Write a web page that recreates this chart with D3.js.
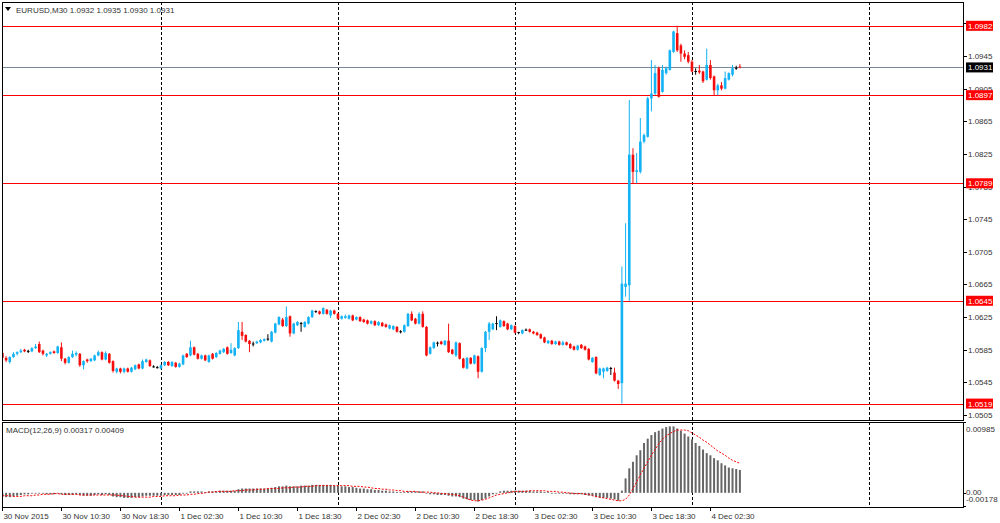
<!DOCTYPE html>
<html><head><meta charset="utf-8">
<script src="https://cdn.jsdelivr.net/npm/d3@7"></script>
<style>
html,body{margin:0;padding:0;background:#fff;}
svg{display:block;}
text{font-family:"Liberation Sans",Arial,sans-serif;font-size:8px;}
</style></head><body>
<svg id="c" width="1000" height="523"></svg>
<script>
const titleText = "EURUSD,M30  1.0932 1.0935 1.0930 1.0931";
const macdTitle = "MACD(12,26,9) 0.00317 0.00409";

const open = [1.0581,1.0575,1.0570,1.0576,1.0580,1.0582,1.0585,1.0583,1.0583,1.0587,
1.0592,1.0584,1.0578,1.0580,1.0583,1.0581,1.0588,1.0574,1.0569,1.0576,
1.0579,1.0580,1.0566,1.0573,1.0571,1.0572,1.0578,1.0582,1.0573,1.0580,
1.0571,1.0558,1.0562,1.0558,1.0562,1.0558,1.0561,1.0567,1.0562,1.0570,
1.0572,1.0564,1.0563,1.0562,1.0566,1.0570,1.0565,1.0569,1.0564,1.0567,
1.0580,1.0578,1.0588,1.0580,1.0574,1.0578,1.0570,1.0580,1.0576,1.0580,
1.0582,1.0588,1.0581,1.0578,1.0587,1.0607,1.0603,1.0596,1.0592,1.0593,
1.0594,1.0596,1.0598,1.0595,1.0606,1.0616,1.0622,1.0614,1.0626,1.0605,
1.0615,1.0617,1.0613,1.0617,1.0625,1.0632,1.0632,1.0629,1.0634,1.0627,
1.0633,1.0629,1.0623,1.0624,1.0623,1.0627,1.0622,1.0625,1.0622,1.0621,
1.0617,1.0620,1.0615,1.0618,1.0616,1.0611,1.0610,1.0613,1.0607,1.0607,
1.0614,1.0629,1.0623,1.0617,1.0629,1.0613,1.0580,1.0587,1.0593,1.0595,
1.0591,1.0596,1.0585,1.0578,1.0593,1.0574,1.0562,1.0575,1.0568,1.0577,
1.0558,1.0587,1.0607,1.0610,1.0617,1.0613,1.0620,1.0617,1.0610,1.0614,
1.0606,1.0605,1.0609,1.0610,1.0607,1.0606,1.0604,1.0600,1.0593,1.0596,
1.0592,1.0595,1.0591,1.0594,1.0592,1.0589,1.0585,1.0591,1.0589,1.0586,
1.0570,1.0576,1.0554,1.0558,1.0559,1.0562,1.0557,1.0547,1.0544,1.0662,
1.0664,1.0824,1.0803,1.0803,1.0840,1.0846,1.0893,1.0899,1.0930,1.0901,
1.0924,1.0928,1.0950,1.0973,1.0958,1.0948,1.0946,1.0938,1.0926,1.0927,
1.0926,1.0916,1.0934,1.0920,1.0903,1.0909,1.0905,1.0916,1.0922,1.0930,
1.0932];
const high = [1.0583,1.0577,1.0577,1.0582,1.0583,1.0586,1.0586,1.0585,1.0588,1.0592,
1.0595,1.0585,1.0581,1.0583,1.0584,1.0590,1.0594,1.0575,1.0577,1.0584,
1.0583,1.0581,1.0572,1.0574,1.0575,1.0579,1.0584,1.0583,1.0583,1.0581,
1.0572,1.0563,1.0563,1.0563,1.0563,1.0564,1.0567,1.0568,1.0573,1.0574,
1.0573,1.0566,1.0565,1.0567,1.0571,1.0571,1.0571,1.0570,1.0569,1.0579,
1.0581,1.0596,1.0589,1.0581,1.0579,1.0579,1.0579,1.0581,1.0582,1.0585,
1.0587,1.0589,1.0593,1.0588,1.0619,1.0619,1.0604,1.0597,1.0595,1.0596,
1.0598,1.0599,1.0604,1.0608,1.0618,1.0626,1.0624,1.0638,1.0627,1.0618,
1.0620,1.0619,1.0620,1.0626,1.0634,1.0633,1.0633,1.0637,1.0635,1.0634,
1.0634,1.0630,1.0627,1.0628,1.0628,1.0628,1.0626,1.0626,1.0623,1.0622,
1.0621,1.0621,1.0620,1.0619,1.0617,1.0616,1.0615,1.0614,1.0609,1.0616,
1.0630,1.0632,1.0624,1.0631,1.0632,1.0614,1.0589,1.0595,1.0595,1.0596,
1.0597,1.0617,1.0586,1.0595,1.0594,1.0575,1.0576,1.0576,1.0579,1.0578,
1.0588,1.0608,1.0619,1.0618,1.0626,1.0622,1.0621,1.0618,1.0616,1.0615,
1.0607,1.0610,1.0611,1.0611,1.0608,1.0607,1.0605,1.0601,1.0597,1.0597,
1.0596,1.0596,1.0596,1.0595,1.0593,1.0590,1.0591,1.0592,1.0590,1.0587,
1.0576,1.0577,1.0563,1.0563,1.0564,1.0564,1.0563,1.0548,1.0687,1.0740,
1.0891,1.0832,1.0826,1.0869,1.0850,1.0895,1.0940,1.0934,1.0932,1.0934,
1.0932,1.0953,1.0976,1.0982,1.0960,1.0952,1.0950,1.0940,1.0930,1.0934,
1.0927,1.0954,1.0940,1.0921,1.0911,1.0913,1.0926,1.0925,1.0934,1.0933,
1.0935];
const low = [1.0573,1.0570,1.0568,1.0575,1.0578,1.0581,1.0582,1.0581,1.0582,1.0586,
1.0581,1.0578,1.0576,1.0579,1.0580,1.0580,1.0571,1.0567,1.0568,1.0575,
1.0577,1.0564,1.0561,1.0569,1.0570,1.0571,1.0577,1.0572,1.0572,1.0568,
1.0557,1.0556,1.0556,1.0556,1.0557,1.0557,1.0560,1.0561,1.0561,1.0569,
1.0564,1.0563,1.0562,1.0561,1.0565,1.0565,1.0564,1.0563,1.0563,1.0566,
1.0575,1.0577,1.0578,1.0573,1.0573,1.0571,1.0569,1.0573,1.0575,1.0579,
1.0581,1.0579,1.0580,1.0577,1.0586,1.0597,1.0594,1.0582,1.0589,1.0592,
1.0593,1.0595,1.0596,1.0594,1.0605,1.0615,1.0613,1.0613,1.0601,1.0604,
1.0614,1.0607,1.0612,1.0616,1.0624,1.0630,1.0628,1.0628,1.0628,1.0624,
1.0628,1.0622,1.0622,1.0623,1.0622,1.0620,1.0621,1.0619,1.0618,1.0616,
1.0616,1.0614,1.0614,1.0613,1.0612,1.0610,1.0609,1.0606,1.0605,1.0606,
1.0613,1.0620,1.0616,1.0616,1.0612,1.0577,1.0579,1.0586,1.0589,1.0591,
1.0590,1.0581,1.0579,1.0576,1.0573,1.0562,1.0561,1.0567,1.0567,1.0550,
1.0557,1.0582,1.0597,1.0609,1.0609,1.0612,1.0613,1.0609,1.0609,1.0605,
1.0604,1.0604,1.0608,1.0606,1.0604,1.0602,1.0598,1.0593,1.0592,1.0591,
1.0591,1.0590,1.0590,1.0590,1.0586,1.0584,1.0584,1.0586,1.0584,1.0572,
1.0569,1.0555,1.0553,1.0550,1.0558,1.0554,1.0546,1.0537,1.0519,1.0650,
1.0645,1.0789,1.0789,1.0801,1.0838,1.0845,1.0877,1.0897,1.0894,1.0900,
1.0922,1.0927,1.0949,1.0950,1.0938,1.0941,1.0936,1.0925,1.0922,1.0923,
1.0912,1.0915,1.0916,1.0897,1.0897,1.0903,1.0904,1.0915,1.0920,1.0928,
1.0930];
const close = [1.0575,1.0572,1.0576,1.0580,1.0582,1.0584,1.0583,1.0583,1.0587,1.0589,
1.0582,1.0580,1.0580,1.0582,1.0581,1.0589,1.0574,1.0569,1.0576,1.0580,
1.0581,1.0566,1.0571,1.0571,1.0574,1.0578,1.0582,1.0573,1.0581,1.0569,
1.0559,1.0562,1.0558,1.0562,1.0558,1.0563,1.0566,1.0562,1.0571,1.0573,
1.0565,1.0564,1.0563,1.0566,1.0570,1.0566,1.0570,1.0564,1.0568,1.0578,
1.0576,1.0588,1.0579,1.0574,1.0578,1.0572,1.0578,1.0574,1.0581,1.0584,
1.0586,1.0580,1.0585,1.0587,1.0609,1.0602,1.0595,1.0592,1.0592,1.0595,
1.0597,1.0598,1.0598,1.0607,1.0617,1.0625,1.0614,1.0625,1.0605,1.0617,
1.0619,1.0617,1.0619,1.0625,1.0633,1.0632,1.0629,1.0636,1.0629,1.0633,
1.0629,1.0623,1.0626,1.0626,1.0627,1.0621,1.0625,1.0620,1.0619,1.0617,
1.0620,1.0615,1.0619,1.0614,1.0613,1.0615,1.0614,1.0607,1.0607,1.0615,
1.0629,1.0621,1.0617,1.0629,1.0613,1.0578,1.0588,1.0594,1.0593,1.0592,
1.0596,1.0582,1.0580,1.0594,1.0574,1.0563,1.0575,1.0568,1.0578,1.0558,
1.0587,1.0607,1.0617,1.0617,1.0617,1.0621,1.0614,1.0610,1.0615,1.0606,
1.0606,1.0609,1.0609,1.0607,1.0605,1.0603,1.0599,1.0594,1.0596,1.0592,
1.0595,1.0591,1.0594,1.0591,1.0587,1.0585,1.0590,1.0587,1.0585,1.0573,
1.0575,1.0556,1.0562,1.0562,1.0563,1.0562,1.0547,1.0543,1.0666,1.0666,
1.0824,1.0803,1.0805,1.0840,1.0848,1.0893,1.0899,1.0924,1.0895,1.0928,
1.0930,1.0952,1.0975,1.0952,1.0948,1.0944,1.0938,1.0926,1.0926,1.0925,
1.0914,1.0934,1.0918,1.0903,1.0909,1.0905,1.0918,1.0924,1.0930,1.0930,
1.0931];

const macdMain = [-0.0005,-0.0006,-0.0006,-0.0005,-0.0004,-0.0003,-0.0002,-0.0002,-0.0001,-0.0001,
-0.0001,-0.0001,-0.0002,-0.0002,-0.0002,-0.0001,-0.0002,-0.0003,-0.0003,-0.0003,
-0.0002,-0.0003,-0.0004,-0.0004,-0.0004,-0.0003,-0.0002,-0.0003,-0.0002,-0.0003,
-0.0005,-0.0006,-0.0006,-0.0007,-0.0007,-0.0007,-0.0006,-0.0006,-0.0005,-0.0004,
-0.0004,-0.0004,-0.0004,-0.0004,-0.0003,-0.0003,-0.0003,-0.0003,-0.0003,-0.0001,
0.0000,0.0002,0.0002,0.0002,0.0002,0.0001,0.0002,0.0002,0.0002,0.0003,
0.0003,0.0003,0.0003,0.0003,0.0005,0.0006,0.0006,0.0006,0.0006,0.0006,
0.0006,0.0006,0.0006,0.0007,0.0008,0.0009,0.0009,0.0010,0.0009,0.0009,
0.0009,0.0010,0.0010,0.0010,0.0011,0.0011,0.0011,0.0011,0.0011,0.0011,
0.0010,0.0010,0.0009,0.0009,0.0008,0.0008,0.0007,0.0006,0.0006,0.0005,
0.0005,0.0004,0.0004,0.0003,0.0003,0.0002,0.0002,0.0001,0.0001,0.0001,
0.0002,0.0002,0.0002,0.0002,0.0002,-0.0001,-0.0002,-0.0002,-0.0003,-0.0003,
-0.0003,-0.0004,-0.0005,-0.0005,-0.0006,-0.0008,-0.0009,-0.0010,-0.0010,-0.0012,
-0.0010,-0.0008,-0.0005,-0.0002,0.0000,0.0002,0.0003,0.0003,0.0003,0.0003,
0.0003,0.0003,0.0003,0.0003,0.0002,0.0002,0.0002,0.0001,0.0001,0.0000,
0.0000,-0.0001,-0.0001,-0.0001,-0.0002,-0.0002,-0.0002,-0.0002,-0.0003,-0.0004,
-0.0004,-0.0006,-0.0007,-0.0007,-0.0007,-0.0008,-0.0009,-0.0011,0.0003,0.0020,
0.0034,0.0043,0.0052,0.0059,0.0069,0.0075,0.0080,0.0084,0.0086,0.0089,
0.0091,0.0092,0.0092,0.0089,0.0086,0.0082,0.0078,0.0074,0.0069,0.0065,
0.0060,0.0055,0.0052,0.0048,0.0045,0.0041,0.0038,0.0035,0.0034,0.0033,
0.00317];
const macdSignal = [-0.0004,-0.0004,-0.0004,-0.0005,-0.0005,-0.0005,-0.0004,-0.0004,-0.0004,-0.0003,
-0.0003,-0.0002,-0.0002,-0.0002,-0.0001,-0.0001,-0.0002,-0.0002,-0.0002,-0.0002,
-0.0002,-0.0003,-0.0003,-0.0003,-0.0003,-0.0003,-0.0003,-0.0003,-0.0003,-0.0003,
-0.0003,-0.0003,-0.0004,-0.0004,-0.0005,-0.0005,-0.0006,-0.0006,-0.0006,-0.0006,
-0.0006,-0.0005,-0.0005,-0.0005,-0.0004,-0.0004,-0.0004,-0.0004,-0.0003,-0.0003,
-0.0003,-0.0002,-0.0002,-0.0001,-0.0001,0.0000,0.0001,0.0001,0.0002,0.0002,
0.0002,0.0002,0.0002,0.0003,0.0003,0.0003,0.0004,0.0004,0.0004,0.0005,
0.0005,0.0005,0.0006,0.0006,0.0006,0.0006,0.0007,0.0007,0.0007,0.0008,
0.0008,0.0008,0.0009,0.0009,0.0009,0.0010,0.0010,0.0010,0.0010,0.0010,
0.0010,0.0010,0.0010,0.0010,0.0010,0.0009,0.0009,0.0009,0.0008,0.0008,
0.0007,0.0006,0.0006,0.0005,0.0005,0.0004,0.0004,0.0003,0.0003,0.0002,
0.0002,0.0002,0.0002,0.0001,0.0001,0.0001,0.0001,0.0000,0.0000,-0.0001,
-0.0001,-0.0002,-0.0002,-0.0003,-0.0004,-0.0006,-0.0008,-0.0010,-0.0011,-0.0011,
-0.0010,-0.0009,-0.0007,-0.0005,-0.0003,-0.0002,-0.0001,0.0000,0.0001,0.0002,
0.0002,0.0002,0.0002,0.0003,0.0003,0.0003,0.0003,0.0003,0.0002,0.0002,
0.0002,0.0001,0.0001,0.0000,0.0000,-0.0001,-0.0001,-0.0001,-0.0002,-0.0002,
-0.0004,-0.0005,-0.0006,-0.0007,-0.0008,-0.0009,-0.0010,-0.0011,-0.0011,-0.0009,
-0.0003,0.0006,0.0015,0.0025,0.0034,0.0043,0.0052,0.0060,0.0068,0.0074,
0.0079,0.0082,0.0085,0.0087,0.0087,0.0087,0.0086,0.0083,0.0080,0.0077,
0.0073,0.0070,0.0066,0.0062,0.0058,0.0055,0.0052,0.0048,0.0045,0.0043,
0.00409];

const timeLabels = ["30 Nov 2015","30 Nov 10:30","30 Nov 18:30","1 Dec 02:30","1 Dec 10:30","1 Dec 18:30","2 Dec 02:30","2 Dec 10:30","2 Dec 18:30","3 Dec 02:30","3 Dec 10:30","3 Dec 18:30","4 Dec 02:30"];
const timeLabelBars = [0,16,32,48,64,80,96,112,128,144,160,176,192];
const daySeparatorBars = [43,91,139,187,235];
const priceTicks = [1.0505,1.0545,1.0585,1.0625,1.0665,1.0705,1.0745,1.0785,1.0825,1.0865,1.0905,1.0945,1.0985];
const priceTickLabels = [1.0505,1.0545,1.0585,1.0625,1.0665,1.0705,1.0745,1.0785,1.0825,1.0865,1.0905,1.0945];
const levelLines = [1.0982,1.0897,1.0789,1.0645,1.0519];
const bidPrice = 1.0931;
const macdAxisLabels = [{v:0.00985,t:"0.00985"},{v:0,t:"0.00"},{v:-0.00178,t:"-0.00178"}];

const L = 2, R = 963, mainTop = 2, mainBot = 420, macdTop = 422, macdBot = 507;
const bullColor = "#12b2f4", bearColor = "#f40d0d", dojiColor = "#000";

const svg = d3.select("#c");
const x = d3.scaleLinear().domain([0, 200]).range([2.4, 739.9]);
const y = d3.scaleLinear().domain([1.0505, 1.0945]).range([415, 56]);
const ym = d3.scaleLinear().domain([-0.00178, 0.00985]).range([505.7, 421.7]);

const bars = d3.range(close.length).map(i => ({i, o:open[i], h:high[i], l:low[i], c:close[i], m:macdMain[i], s:macdSignal[i]}));

svg.append("clipPath").attr("id","mainClip").append("rect").attr("x",L).attr("y",mainTop).attr("width",R-L).attr("height",mainBot-mainTop);
svg.append("clipPath").attr("id","macdClip").append("rect").attr("x",L).attr("y",macdTop).attr("width",R-L).attr("height",macdBot-macdTop);

const gMain = svg.append("g").attr("clip-path","url(#mainClip)");
const gMacd = svg.append("g").attr("clip-path","url(#macdClip)");

[ [gMain, mainTop, mainBot], [gMacd, macdTop, macdBot] ].forEach(([g, t, b]) => {
  g.selectAll(null).data(daySeparatorBars).enter().append("line")
    .attr("x1", d => Math.round(x(d)) + 0.5).attr("x2", d => Math.round(x(d)) + 0.5)
    .attr("y1", t).attr("y2", b)
    .attr("stroke", "#000").attr("stroke-width", 1).attr("stroke-dasharray", "3,2");
});

gMain.selectAll(null).data(levelLines).enter().append("line")
  .attr("x1", L).attr("x2", R)
  .attr("y1", d => Math.round(y(d)) + 0.5).attr("y2", d => Math.round(y(d)) + 0.5)
  .attr("stroke", "#ff0000").attr("stroke-width", 1);
gMain.append("line").attr("x1", L).attr("x2", R)
  .attr("y1", Math.round(y(bidPrice)) + 0.5).attr("y2", Math.round(y(bidPrice)) + 0.5)
  .attr("stroke", "#778899").attr("stroke-width", 1);

const bw = 2.6;
const cg = gMain.selectAll("g.candle").data(bars).enter().append("g").attr("class","candle");
const colorOf = d => d.c > d.o ? bullColor : (d.c < d.o ? bearColor : dojiColor);
cg.append("line")
  .attr("x1", d => x(d.i)).attr("x2", d => x(d.i))
  .attr("y1", d => y(d.h)).attr("y2", d => y(d.l))
  .attr("stroke", colorOf).attr("stroke-width", 1);
cg.filter(d => d.c !== d.o).append("rect")
  .attr("x", d => x(d.i) - bw/2).attr("width", bw)
  .attr("y", d => y(Math.max(d.o, d.c)))
  .attr("height", d => Math.max(1, y(Math.min(d.o, d.c)) - y(Math.max(d.o, d.c))))
  .attr("fill", colorOf);
cg.filter(d => d.c === d.o).append("line")
  .attr("x1", d => x(d.i) - bw/2).attr("x2", d => x(d.i) + bw/2)
  .attr("y1", d => y(d.o)).attr("y2", d => y(d.o))
  .attr("stroke", dojiColor).attr("stroke-width", 1);

gMacd.selectAll("rect.h").data(bars).enter().append("rect").attr("class","h")
  .attr("x", d => x(d.i) - 1).attr("width", 2)
  .attr("y", d => Math.min(ym(0), ym(d.m)))
  .attr("height", d => Math.max(0.8, Math.abs(ym(d.m) - ym(0))))
  .attr("fill", "#666");
gMacd.append("path").datum(bars)
  .attr("d", d3.line().x(d => x(d.i)).y(d => ym(d.s)))
  .attr("fill","none").attr("stroke","#ff0000").attr("stroke-width",1).attr("stroke-dasharray","2,1.5");

const frame = svg.append("g").attr("fill","none").attr("stroke","#000").attr("stroke-width",1).attr("shape-rendering","crispEdges");
frame.append("rect").attr("x", L + 0.5).attr("y", mainTop + 0.5).attr("width", R - L).attr("height", mainBot - mainTop);
frame.append("rect").attr("x", L + 0.5).attr("y", macdTop + 0.5).attr("width", R - L).attr("height", macdBot - macdTop);

const ax = svg.append("g");
ax.selectAll(null).data(priceTicks).enter().append("line")
  .attr("x1", R + 0.5).attr("x2", R + 4).attr("y1", d => Math.round(y(d)) + 0.5).attr("y2", d => Math.round(y(d)) + 0.5)
  .attr("stroke", "#000").attr("shape-rendering","crispEdges");
ax.selectAll(null).data(priceTickLabels).enter().append("text")
  .attr("x", R + 5).attr("y", d => y(d) + 3)
  .attr("fill", "#333").text(d => d.toFixed(4));

const lab = svg.append("g");
levelLines.forEach(v => {
  lab.append("rect").attr("x", 966).attr("y", y(v) - 5).attr("width", 27).attr("height", 10).attr("fill", "#ff0000");
  lab.append("text").attr("x", 968).attr("y", y(v) + 3).attr("fill", "#fff").text(v.toFixed(4));
});
lab.append("rect").attr("x", 966).attr("y", y(bidPrice) - 5).attr("width", 27).attr("height", 10).attr("fill", "#000");
lab.append("text").attr("x", 968).attr("y", y(bidPrice) + 3).attr("fill", "#fff").text(bidPrice.toFixed(4));

svg.selectAll(null).data(macdAxisLabels).enter().append("text")
  .attr("x", 966).attr("y", (d, k) => k === 0 ? 432 : (k === 1 ? 495 : 502))
  .attr("fill", "#333").attr("font-size", (d, k) => k === 0 ? 8 : 7.5).text(d => d.t);
svg.selectAll(null).data(macdAxisLabels).enter().append("line")
  .attr("x1", R).attr("x2", R + 3).attr("y1", d => Math.round(ym(d.v)) + 0.5).attr("y2", d => Math.round(ym(d.v)) + 0.5)
  .attr("stroke", "#000");

svg.selectAll(null).data(timeLabelBars).enter().append("line")
  .attr("x1", d => Math.round(x(d)) + 0.5).attr("x2", d => Math.round(x(d)) + 0.5)
  .attr("y1", macdBot).attr("y2", macdBot + 4).attr("stroke", "#000");
svg.selectAll(null).data(timeLabelBars).enter().append("text")
  .attr("x", d => x(d) + 1).attr("y", 518.5).attr("fill", "#333")
  .text((d, k) => timeLabels[k]);

svg.append("path").attr("d", "M5,7 L11,7 L8,11 Z").attr("fill", "#000");
svg.append("text").attr("x", 16).attr("y", 12.5).attr("fill", "#333").text(titleText);
svg.append("text").attr("x", 6).attr("y", 433).attr("fill", "#333").text(macdTitle);
</script>
</body></html>
